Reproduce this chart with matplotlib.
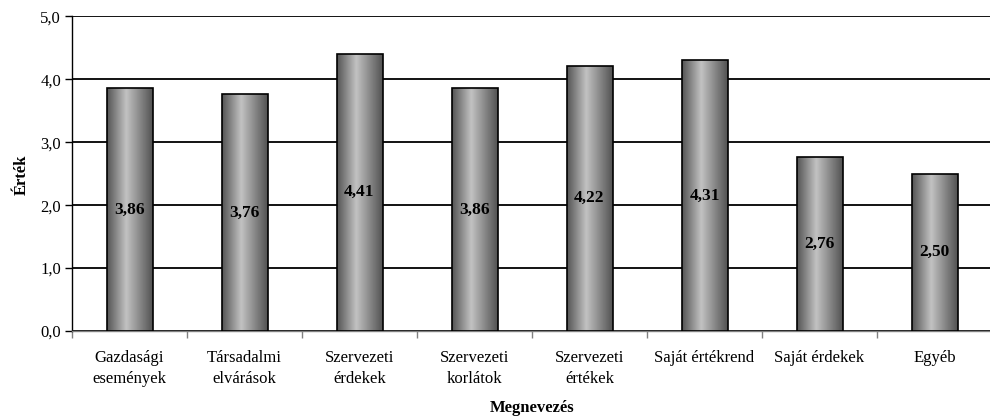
import matplotlib
matplotlib.use("Agg")
import matplotlib.pyplot as plt
import numpy as np

categories = ["Gazdasági\nesemények", "Társadalmi\nelvárások", "Szervezeti\nérdekek",
              "Szervezeti\nkorlátok", "Szervezeti\nértékek", "Saját értékrend",
              "Saját érdekek", "Egyéb"]
values = [3.86, 3.76, 4.41, 3.86, 4.22, 4.31, 2.76, 2.50]
yticks = [0.0, 1.0, 2.0, 3.0, 4.0, 5.0]

plt.rcParams['font.family'] = ['Liberation Serif', 'DejaVu Serif']

W, H = 990, 419
fig = plt.figure(figsize=(W/100, H/100), dpi=100)
ax = fig.add_axes([72/W, (H-331)/H, 920/W, (331-16.5)/H])

x = np.arange(len(categories))
bars = ax.bar(x, values, width=0.4, facecolor='none', edgecolor='black',
              linewidth=1.2, zorder=3)

# cylinder-like gradient
t = np.linspace(0, 1, 200)
prof = np.interp(t, [0, 0.42, 1], [0.33, 0.76, 0.32])
grad = np.tile(prof, (2, 1))
for b in bars:
    x0, y0 = b.get_x(), b.get_y()
    w, h = b.get_width(), b.get_height()
    im = ax.imshow(grad, cmap='gray', vmin=0, vmax=1, aspect='auto',
                   extent=[x0, x0 + w, y0, y0 + h], zorder=2, interpolation='bilinear')
    im.set_clip_path(b)

for xi, v in zip(x, values):
    ax.text(xi, v / 2, f"{v:.2f}".replace('.', ','), ha='center', va='center',
            fontsize=12.5, fontweight='bold', zorder=4)

ax.set_xlim(-0.5, len(categories) - 0.5)
ax.set_ylim(0, 5)
ax.set_yticks(yticks)
ax.set_yticklabels([f"{v:.1f}".replace('.', ',') for v in yticks], fontsize=12)
ax.yaxis.grid(True, color='black', linewidth=1.3, zorder=1)
ax.set_axisbelow(True)

ax.set_xticks(x)
ax.set_xticklabels(categories, fontsize=12, linespacing=1.4)
ax.tick_params(axis='x', length=0, pad=14)
ax.set_xticks(np.arange(len(categories) + 1) - 0.5, minor=True)
ax.tick_params(axis='x', which='minor', length=5, color='#808080', width=1)
ax.tick_params(axis='y', length=5, width=1, color='black', pad=3)

for s in ['top', 'right']:
    ax.spines[s].set_visible(False)
ax.spines['left'].set_color('black')
ax.spines['left'].set_linewidth(1)
ax.spines['bottom'].set_color('#808080')
ax.spines['bottom'].set_linewidth(1)

fig.text(22/W, 1 - 175/H, "Érték", rotation=90, ha='center', va='center',
         fontsize=12, fontweight='bold')
fig.text(532/W, 1 - 408/H, "Megnevezés", ha='center', va='center',
         fontsize=12, fontweight='bold')

fig.savefig("out.png", dpi=100)
